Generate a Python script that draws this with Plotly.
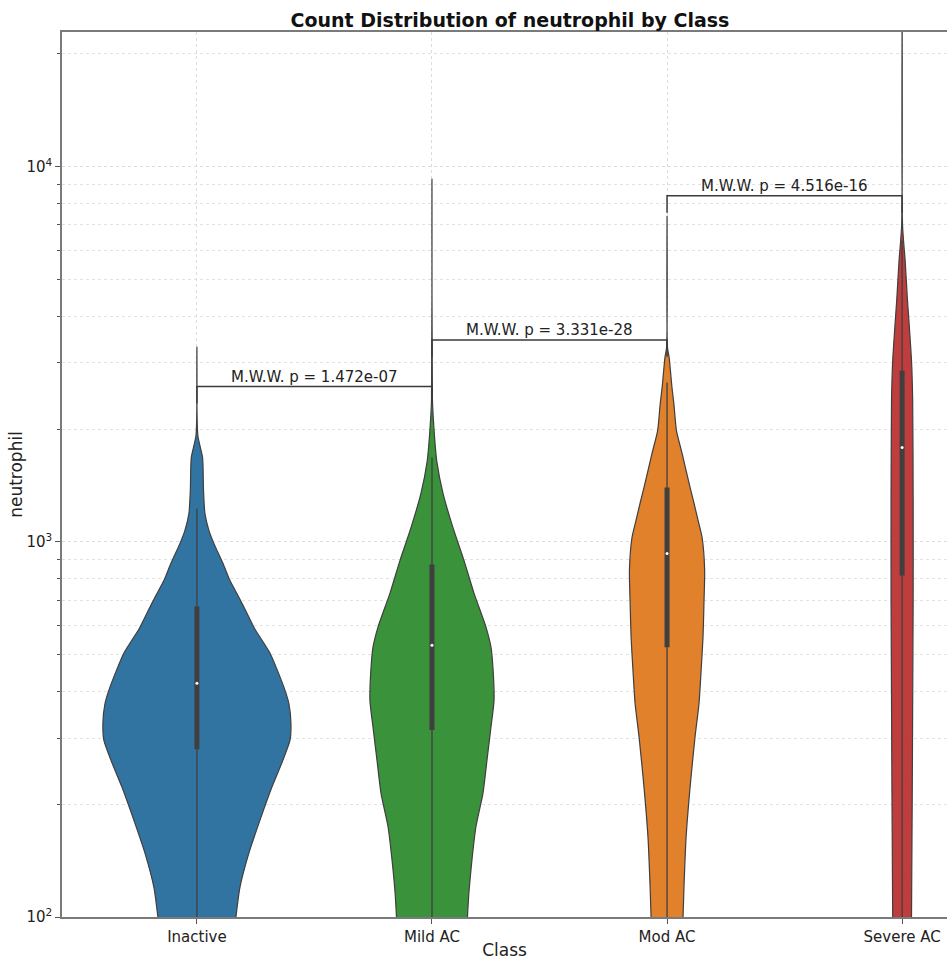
import numpy as np
import plotly.graph_objects as go

# ---------------- data ----------------
categories = ["Inactive", "Mild AC", "Mod AC", "Severe AC"]
colors = ["#3274a1", "#3a923a", "#e1812c", "#c03d3e"]

# violin density profiles: neutrophil level -> half width (category units)
inactive_levels = [100, 120, 148, 181, 222, 262, 296, 329, 371, 410, 505, 588, 645, 711, 790, 876, 991, 1073, 1191, 1372, 1679, 1921, 3316]
inactive_width = [0.166, 0.183, 0.221, 0.268, 0.319, 0.366, 0.396, 0.400, 0.391, 0.370, 0.311, 0.245, 0.213, 0.179, 0.140, 0.111, 0.072, 0.051, 0.034, 0.028, 0.024, 0.004, 0.0]

mild_levels = [100, 116, 142, 174, 214, 262, 321, 378, 455, 524, 592, 729, 893, 1093, 1347, 1648, 1981, 2382, 9290]
mild_width = [0.151, 0.157, 0.170, 0.187, 0.217, 0.234, 0.251, 0.264, 0.260, 0.251, 0.230, 0.179, 0.136, 0.089, 0.047, 0.020, 0.009, 0.002, 0.0]

mod_levels = [100, 120, 163, 222, 302, 371, 455, 557, 686, 840, 1028, 1141, 1266, 1397, 1721, 1981, 2338, 2579, 3099, 3296, 7404]
mod_width = [0.068, 0.072, 0.081, 0.098, 0.119, 0.136, 0.145, 0.153, 0.157, 0.160, 0.149, 0.132, 0.115, 0.098, 0.064, 0.040, 0.029, 0.021, 0.009, 0.002, 0.0]

severe_levels = [100, 205, 378, 699, 1290, 2382, 3044, 3890, 4397, 5618, 6965, 26000]
severe_width = [0.040, 0.043, 0.045, 0.047, 0.047, 0.045, 0.040, 0.029, 0.023, 0.013, 0.002, 0.0]

# inner box statistics
whisker_low = [50, 50, 50, 50]
q1 = [280, 315, 524, 814]
median = [420, 530, 932, 1785]
q3 = [673, 871, 1397, 2862]
whisker_high = [1228, 1679, 2660, 6353]

# Mann-Whitney-Wilcoxon comparisons
pairs = [(0, 1), (1, 2), (2, 3)]
pair_labels = ["M.W.W. p = 1.472e-07", "M.W.W. p = 3.331e-28", "M.W.W. p = 4.516e-16"]
bracket_heights = [2595, 3455, 8373]

y_tick_vals = [100, 1000, 10000]
y_tick_text = ["10<sup>2</sup>", "10<sup>3</sup>", "10<sup>4</sup>"]

profiles = [
    (inactive_levels, inactive_width),
    (mild_levels, mild_width),
    (mod_levels, mod_width),
    (severe_levels, severe_width),
]

# ---------------- figure ----------------
FONT = "DejaVu Sans"
fig = go.Figure()

for i, ((lv, wd), col) in enumerate(zip(profiles, colors)):
    lv = np.array(lv, dtype=float)
    wd = np.array(wd, dtype=float)
    xs = np.concatenate([i - wd, (i + wd)[::-1]])
    ys = np.concatenate([lv, lv[::-1]])
    fig.add_trace(go.Scatter(
        x=xs, y=ys, mode="lines", fill="toself", fillcolor=col,
        line=dict(color="#3f3f3f", width=1.2, shape="spline", smoothing=0.6),
        hoverinfo="skip", showlegend=False,
    ))

for i in range(len(categories)):
    fig.add_trace(go.Scatter(
        x=[i, i], y=[whisker_low[i], whisker_high[i]], mode="lines",
        line=dict(color="#3f3f3f", width=1.3), hoverinfo="skip", showlegend=False,
    ))
    fig.add_trace(go.Scatter(
        x=[i, i], y=[q1[i], q3[i]], mode="lines",
        line=dict(color="#3f3f3f", width=5), hoverinfo="skip", showlegend=False,
    ))
    fig.add_trace(go.Scatter(
        x=[i], y=[median[i]], mode="markers",
        marker=dict(color="white", size=3), hoverinfo="skip", showlegend=False,
    ))

leg = 10 ** 0.045
for (a, b), lab, h in zip(pairs, pair_labels, bracket_heights):
    fig.add_trace(go.Scatter(
        x=[a, a, b, b], y=[h / leg, h, h, h / leg], mode="lines",
        line=dict(color="#3a3a3a", width=1.5), hoverinfo="skip", showlegend=False,
    ))
    fig.add_annotation(
        x=(a + b) / 2, y=np.log10(h), text=lab, showarrow=False,
        xref="x", yref="y", yanchor="bottom", yshift=-1,
        font=dict(family=FONT, size=15, color="#222"),
    )

minor_vals = [m * 10 ** k for k in (2, 3, 4) for m in range(2, 10)]

W, H = 947, 960
fig.update_layout(
    width=W, height=H,
    margin=dict(l=62, r=0, t=32, b=43, autoexpand=False),
    paper_bgcolor="white", plot_bgcolor="white",
    title=dict(text="Count Distribution of neutrophil by Class",
               x=(510 - 62) / 885, xref="paper", xanchor="center",
               y=1 - 20 / H, yref="container", yanchor="middle",
               font=dict(family=FONT, size=19, color="#111", weight="bold")),
    font=dict(family=FONT, size=15, color="#222"),
    xaxis=dict(
        range=[-0.574, 3.191], tickvals=list(range(len(categories))), ticktext=categories,
        showgrid=True, gridcolor="#dcdcdc", griddash="dot", gridwidth=1,
        showline=True, linecolor="#7a7a7a", linewidth=1.5, mirror=True,
        ticks="outside", ticklen=5, tickcolor="#555", automargin=False,
        title=dict(text="Class", font=dict(family=FONT, size=17, color="#222"), standoff=7),
        zeroline=False, tickfont=dict(size=15),
    ),
    yaxis=dict(
        type="log", range=[2, 4.3595], tickvals=y_tick_vals, ticktext=y_tick_text,
        showgrid=True, gridcolor="#dcdcdc", griddash="dot", gridwidth=1,
        showline=True, linecolor="#7a7a7a", linewidth=1.5,
        ticks="outside", ticklen=5, tickcolor="#555", automargin=False,
        minor=dict(tickvals=minor_vals, ticks="outside", ticklen=3, tickcolor="#555",
                   showgrid=True, gridcolor="#e2e2e2", griddash="dot", gridwidth=1),
        title=dict(text="neutrophil", font=dict(family=FONT, size=17, color="#222"), standoff=0),
        zeroline=False, tickfont=dict(size=15),
    ),
)

# remove the default page margin so the figure fills the window exactly
fig.write_html(
    "out.html",
    config={"displayModeBar": False},
    post_script="document.body.style.margin='0px';document.body.style.overflow='hidden';",
)
